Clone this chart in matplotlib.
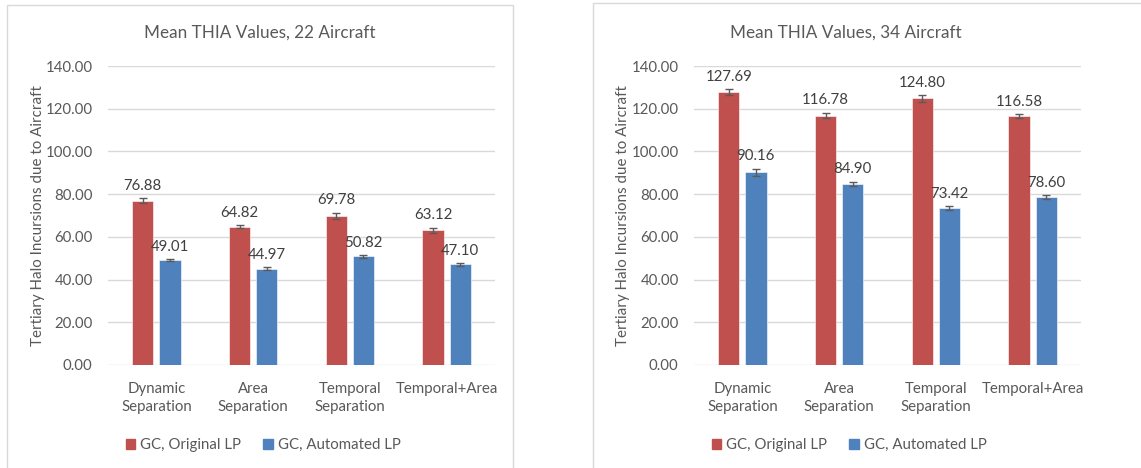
import matplotlib
matplotlib.use("Agg")
import matplotlib.pyplot as plt
import numpy as np
from matplotlib.patches import Rectangle

plt.rcParams['font.family'] = ['Lato', 'DejaVu Sans']

categories = ["Dynamic\nSeparation", "Area\nSeparation", "Temporal\nSeparation", "Temporal+Area"]
series_names = ["GC, Original LP", "GC, Automated LP"]

orig_22 = [76.88, 64.82, 69.78, 63.12]
auto_22 = [49.01, 44.97, 50.82, 47.10]
orig_22_err = [1.2, 0.5, 1.5, 1.2]
auto_22_err = [0.5, 0.7, 0.5, 0.6]

orig_34 = [127.69, 116.78, 124.80, 116.58]
auto_34 = [90.16, 84.90, 73.42, 78.60]
orig_34_err = [1.5, 1.2, 1.5, 0.8]
auto_34_err = [1.7, 1.0, 0.8, 0.9]

titles = ["Mean THIA Values, 22 Aircraft", "Mean THIA Values, 34 Aircraft"]
yticks = [0, 20, 40, 60, 80, 100, 120, 140]
ylabel = "Tertiary Halo Incursions due to Aircraft"

RED = "#C0504D"
BLUE = "#4F81BD"
GRID = "#D9D9D9"
TXT = "#595959"
LBL = "#404040"

W, H = 1141, 468
fig = plt.figure(figsize=(W / 100, H / 100), dpi=100)

def fx(px):
    return px / W

def fy(py):
    return 1 - py / H

panels = [
    dict(box=(7, 5, 513, 470), ax_left=108, center=260, leg=263, ylab_x=38,
         data=(orig_22, auto_22, orig_22_err, auto_22_err), title=titles[0]),
    dict(box=(593, 3, 1145, 470), ax_left=694, center=846, leg=849, ylab_x=623,
         data=(orig_34, auto_34, orig_34_err, auto_34_err), title=titles[1]),
]

ax_w = 387
y0_px, y140_px = 365, 66

for p in panels:
    x0, y0, x1, y1 = p['box']
    fig.patches.append(Rectangle((fx(x0), fy(y1)), fx(x1 - x0), (y1 - y0) / H,
                                 transform=fig.transFigure, fill=False,
                                 edgecolor=GRID, linewidth=1.0, zorder=0))
    ax = fig.add_axes([fx(p['ax_left']), fy(y0_px), fx(ax_w), (y0_px - y140_px) / H])
    o, a, oe, ae = p['data']
    x = np.arange(len(categories))
    bw = 0.22
    off = 0.14
    for vals, errs, col, sgn in [(o, oe, RED, -1), (a, ae, BLUE, 1)]:
        xs = x + sgn * off
        ax.bar(xs, vals, width=bw, color=col, edgecolor='#FFFFFF', linewidth=0.4, zorder=2)
        ax.errorbar(xs, vals, yerr=errs, fmt='none', ecolor='#5A5A5A',
                    elinewidth=1.0, capsize=3.2, capthick=1.0, zorder=3)
        for xi, v, e in zip(xs, vals, errs):
            ax.annotate(f"{v:.2f}", (xi, v + e), xytext=(0, 4), textcoords='offset points',
                        ha='center', va='bottom', fontsize=10.8, color=LBL, zorder=4)
    ax.set_xlim(-0.5, 3.5)
    ax.set_ylim(0, 140)
    ax.set_yticks(yticks)
    ax.set_yticklabels([f"{t:.2f}" for t in yticks])
    ax.set_xticks(x)
    ax.set_xticklabels(categories, linespacing=1.35)
    ax.tick_params(axis='both', length=0, labelsize=10.8, labelcolor=TXT)
    ax.tick_params(axis='y', pad=11)
    ax.tick_params(axis='x', pad=12)
    for s in ax.spines.values():
        s.set_visible(False)
    ax.yaxis.grid(True, color=GRID, linewidth=1.0, zorder=0)
    ax.set_axisbelow(True)
    fig.text(fx(p['center']), fy(33), p['title'], ha='center', va='center',
             fontsize=12.3, color=TXT)
    fig.text(fx(p['ylab_x']), fy(216), ylabel, ha='center', va='center',
             rotation=90, fontsize=10.9, color=TXT)
    handles = [Rectangle((0, 0), 1, 1, color=RED), Rectangle((0, 0), 1, 1, color=BLUE)]
    fig.legend(handles, series_names, loc='center', bbox_to_anchor=(fx(p['leg']), fy(445)),
               ncol=2, frameon=False, fontsize=10.8, labelcolor=TXT,
               handlelength=0.65, handleheight=0.65, handletextpad=0.3, columnspacing=1.5)

fig.savefig("out.png", dpi=100)
